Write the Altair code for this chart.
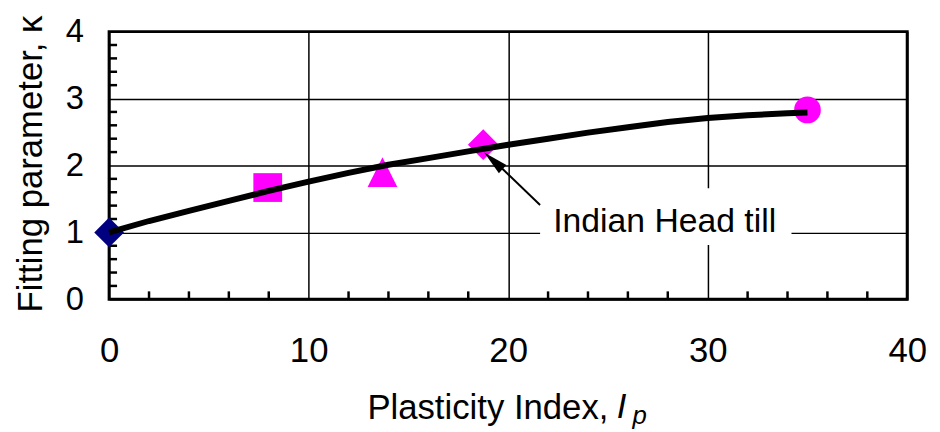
import altair as alt
import pandas as pd

# ---- data ----
curve_ip = [0, 2, 4, 6, 8, 10, 12, 14, 16, 18, 20, 22, 24, 26, 28, 30, 32, 34, 35]
curve_k = [1.00, 1.17, 1.32, 1.47, 1.62, 1.76, 1.89, 2.01, 2.11, 2.21, 2.31,
           2.40, 2.49, 2.57, 2.65, 2.71, 2.75, 2.78, 2.79]

pt_ip = [0, 7.95, 13.7, 18.75, 35.0]
pt_k = [1.00, 1.67, 1.90, 2.31, 2.83]
pt_shape = ["diamond", "square", "M0,-1L1,1L-1,1Z", "diamond", "circle"]
pt_color = ["#000080", "#FF00FF", "#FF00FF", "#FF00FF", "#FF00FF"]
pt_size = [900, 841, 900, 961, 729]

x_major = [0, 10, 20, 30, 40]
y_major = [0, 1, 2, 3, 4]
x_minor = [2, 4, 6, 8, 12, 14, 16, 18, 22, 24, 26, 28, 32, 34, 36, 38]
y_minor = [0.2, 0.4, 0.6, 0.8, 1.2, 1.4, 1.6, 1.8, 2.2, 2.4, 2.6, 2.8,
           3.2, 3.4, 3.6, 3.8]

ann_text = ["Indian Head till"]
ann_text_ip = [22.26]
ann_text_k = [1.01]
ann_box_ip = [21.6, 34.2]
ann_box_k = [0.81, 1.66]
arrow_tail = [21.6, 1.41]
arrow_base = [19.71, 1.95]
arrow_head = [19.26, 2.07]

FONT = "Liberation Sans"

xs = alt.Scale(domain=[0, 40], nice=False, zero=False)
ys = alt.Scale(domain=[0, 4], nice=False, zero=False)

x_axis = alt.Axis(values=x_major, grid=True, ticks=False, domain=False, labelFlush=False,
                  labelFontSize=35, labelPadding=35, labelFont=FONT, labelColor="black",
                  title="Plasticity Index,", titleFont=FONT, titleFontSize=35,
                  titleFontWeight="normal", titleColor="black", titleX=260, titleY=120,
                  titleAlign="left", titleBaseline="alphabetic",
                  gridColor="black", gridWidth=1.5, gridOpacity=1)
y_axis = alt.Axis(values=y_major, grid=True, ticks=False, domain=False, labelFlush=False,
                  labelFontSize=33, labelPadding=26, labelFont=FONT, labelColor="black",
                  title="Fitting parameter, κ", titleFont=FONT, titleFontSize=35,
                  titleFontWeight="normal", titleColor="black", titleX=-68, titleY=133,
                  titleAngle=270, titleAlign="center", titleBaseline="alphabetic",
                  gridColor="black", gridWidth=1.5, gridOpacity=1)


def X(f):
    return alt.X(f, scale=xs, axis=x_axis)


def Y(f):
    return alt.Y(f, scale=ys, axis=y_axis)


curve_df = pd.DataFrame({"ip": curve_ip, "k": curve_k})
pts_df = pd.DataFrame({"ip": pt_ip, "k": pt_k, "shape": pt_shape,
                       "color": pt_color, "size": pt_size})

curve = alt.Chart(curve_df).mark_line(color="black", strokeWidth=6).encode(
    x=X("ip:Q"), y=Y("k:Q"), order="ip:Q")

# white box behind the annotation text
box = alt.Chart(pd.DataFrame({"x": [ann_box_ip[0]], "x2": [ann_box_ip[1]],
                              "y": [ann_box_k[0]], "y2": [ann_box_k[1]]})).mark_rect(
    color="white").encode(x=X("x:Q"), x2="x2:Q", y=Y("y:Q"), y2="y2:Q")

xmin = alt.Chart(pd.DataFrame({"v": x_minor})).mark_rule(
    color="black", strokeWidth=2.5).encode(
    x=X("v:Q"), y=alt.value(270), y2=alt.value(262))

ymin = alt.Chart(pd.DataFrame({"v": y_minor})).mark_rule(
    color="black", strokeWidth=2.5).encode(
    y=Y("v:Q"), x=alt.value(0), x2=alt.value(8))

points = alt.Chart(pts_df).mark_point(filled=True, opacity=1, strokeWidth=0).encode(
    x=X("ip:Q"), y=Y("k:Q"),
    shape=alt.Shape("shape:N", scale=None),
    color=alt.Color("color:N", scale=None),
    size=alt.Size("size:Q", scale=None))

arrow_line = alt.Chart(pd.DataFrame({"x": [arrow_tail[0]], "y": [arrow_tail[1]],
                                     "x2": [arrow_base[0]], "y2": [arrow_base[1]]})).mark_rule(
    color="black", strokeWidth=2).encode(x=X("x:Q"), y=Y("y:Q"), x2="x2:Q", y2="y2:Q")

arrow_tip = alt.Chart(pd.DataFrame({"x": [arrow_head[0]], "y": [arrow_head[1]]})).mark_point(
    shape="M0,-1L0.45,1L-0.45,1Z", filled=True, color="black", opacity=1,
    size=625, angle=312, strokeWidth=0).encode(x=X("x:Q"), y=Y("y:Q"))

ann = alt.Chart(pd.DataFrame({"x": ann_text_ip, "y": ann_text_k, "t": ann_text})).mark_text(
    font=FONT, fontSize=34, color="black", align="left", baseline="alphabetic").encode(
    x=X("x:Q"), y=Y("y:Q"), text="t:N")

one = pd.DataFrame({"a": [0]})
title_i = alt.Chart(one).mark_text(
    font=FONT, fontSize=35, fontStyle="italic", color="black",
    align="left", baseline="alphabetic").encode(
    x=alt.value(512), y=alt.value(390), text=alt.value("I"))
title_p = alt.Chart(one).mark_text(
    font=FONT, fontSize=26, fontStyle="italic", color="black",
    align="left", baseline="alphabetic").encode(
    x=alt.value(528), y=alt.value(396), text=alt.value("p"))

chart = alt.layer(box, xmin, ymin, points, curve, arrow_line, arrow_tip, ann,
                  title_i, title_p).properties(
    width=805, height=270,
    background="white",
    autosize=alt.AutoSizeParams(type="none"),
    padding={"left": 102, "top": 22, "right": 25, "bottom": 130},
).configure_view(stroke="black", strokeWidth=3)

chart.save("out.html", embed_options={"renderer": "svg", "actions": False})
